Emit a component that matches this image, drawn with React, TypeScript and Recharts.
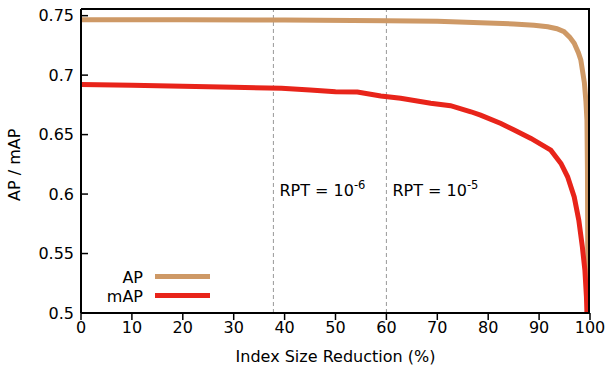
import { LineChart, Line, XAxis, YAxis, ReferenceLine } from 'recharts';

const xTicks = [0, 10, 20, 30, 40, 50, 60, 70, 80, 90, 100];
const yTicks = [0.5, 0.55, 0.6, 0.65, 0.7, 0.75];

const apX = [0, 20, 40, 60, 70, 78.5, 85, 89, 91.7, 93.5, 94.9, 96.0, 96.9, 97.7, 98.2, 98.9, 99.2, 99.4, 99.5, 99.6];
const apY = [0.7465, 0.7465, 0.7464, 0.7458, 0.7452, 0.7441, 0.743, 0.742, 0.7407, 0.739, 0.7365, 0.732, 0.7268, 0.719, 0.7127, 0.6934, 0.678, 0.6622, 0.62, 0.5];

const mapX = [0, 10, 20, 30, 39.4, 45, 50, 54.3, 58.9, 62.8, 68.7, 72.6, 76.6, 78.5, 82.5, 85.1, 88.4, 92.3, 94.3, 95.6, 96.9, 97.8, 98.5, 99.0, 99.3, 99.4];
const mapY = [0.6922, 0.6915, 0.6907, 0.6898, 0.689, 0.6875, 0.686, 0.6858, 0.6824, 0.6805, 0.6763, 0.6743, 0.6692, 0.6664, 0.6594, 0.6538, 0.6468, 0.6369, 0.6257, 0.6145, 0.5976, 0.578, 0.5555, 0.5359, 0.5135, 0.5];

const rptLines = [37.8, 60];
const rptExp = ['-6', '-5'];

const yTop = 0.7556;
const apColor = '#CE9966';
const mapColor = '#E8241A';
const font = 'DejaVu Sans, sans-serif';
const fs = 16;

const apData = apX.map((x, i) => ({ x, y: apY[i] }));
const mapData = mapX.map((x, i) => ({ x, y: mapY[i] }));

const legendItems = [
  { name: 'AP', color: apColor },
  { name: 'mAP', color: mapColor },
];

function YTick(props: any) {
  const { x, y, payload } = props;
  const axisX = x + 7;
  return (
    <g>
      <line x1={axisX} x2={axisX + 7} y1={y} y2={y} stroke="#000" strokeWidth={1.5} />
      <text x={x} y={y} dy={5.5} textAnchor="end" fontSize={fs} fontFamily={font} fill="#000">
        {payload.value}
      </text>
    </g>
  );
}

// frame (top/right spines) and legend drawn in an overlay svg
function Overlay() {
  return (
    <svg width={607} height={366} style={{ position: 'absolute', left: 0, top: 0, zIndex: 10, pointerEvents: 'none' }}>
      <polyline points="81,9 589,9 589,313" fill="none" stroke="#000" strokeWidth={2} />
      <g transform="translate(80,268)">
        {legendItems.map((it, i) => (
          <g key={it.name}>
            <text x={63} y={i * 19 + 14.5} textAnchor="end" fontSize={fs} fontFamily={font} fill="#000">
              {it.name}
            </text>
            <line x1={75} x2={130} y1={i * 19 + 8.5} y2={i * 19 + 8.5} stroke={it.color} strokeWidth={5} />
          </g>
        ))}
      </g>
    </svg>
  );
}

export default function App() {
  return (
    <div style={{ position: 'absolute', left: 0, top: 0, width: 607, height: 366 }}>
      <LineChart width={607} height={366} margin={{ top: 9, right: 17, bottom: 0, left: 0 }}>
        <XAxis
          type="number"
          dataKey="x"
          domain={[0, 100]}
          ticks={xTicks}
          allowDataOverflow
          height={53}
          tickSize={7}
          tickMargin={2}
          tick={{ fontSize: fs, fontFamily: font, fill: '#000' }}
          tickLine={{ stroke: '#000', strokeWidth: 1.5 }}
          axisLine={{ stroke: '#000', strokeWidth: 2 }}
          label={{ value: 'Index Size Reduction (%)', position: 'insideBottom', offset: 4, fontSize: fs, fontFamily: font, fill: '#000' }}
        />
        <YAxis
          type="number"
          domain={[0.5, yTop]}
          ticks={yTicks}
          allowDataOverflow
          width={81}
          tickSize={0}
          tickMargin={7}
          tickLine={false}
          tick={<YTick />}
          axisLine={{ stroke: '#000', strokeWidth: 2 }}
          label={{ value: 'AP / mAP', angle: -90, position: 'insideLeft', offset: 14, dy: 40, fontSize: fs, fontFamily: font, fill: '#000' }}
        />
        {rptLines.map((v, i) => (
          <ReferenceLine
            key={v}
            x={v}
            stroke="#999"
            strokeWidth={1}
            strokeDasharray="4 3"
            label={(p: any) => {
              const vb = p.viewBox;
              return (
                <text x={vb.x + 6} y={vb.y + vb.height * 0.615} fontSize={fs} fontFamily={font} fill="#000">
                  RPT = 10
                  <tspan dy={-7} fontSize={11.5}>{rptExp[i]}</tspan>
                </text>
              );
            }}
          />
        ))}
        <Line data={apData} dataKey="y" type="linear" stroke={apColor} strokeWidth={5} dot={false} isAnimationActive={false} />
        <Line data={mapData} dataKey="y" type="linear" stroke={mapColor} strokeWidth={5} dot={false} isAnimationActive={false} />
      </LineChart>
      <Overlay />
    </div>
  );
}
